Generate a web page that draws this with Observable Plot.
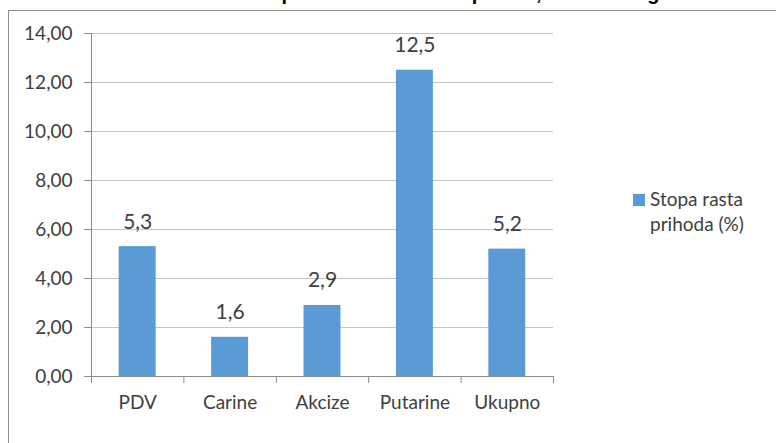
<!DOCTYPE html>
<html>
<head>
<meta charset="utf-8">
<script src="https://cdn.jsdelivr.net/npm/d3@7"></script>
<script src="https://cdn.jsdelivr.net/npm/@observablehq/plot@0.6"></script>
<style>
  html, body { margin: 0; padding: 0; background: #fff; }
  body { width: 776px; height: 443px; position: relative; overflow: hidden; font-family: Lato, "Open Sans", sans-serif; }
  #frame { position: absolute; left: 8px; top: 10px; width: 800px; height: 460px; border: 1px solid #8c8c8c; box-sizing: border-box; }
  #title { position: absolute; left: 0; width: 840px; top: -18px; text-align: center; font-family: "Liberation Sans", Arial, sans-serif; font-weight: bold; font-size: 20px; color: #000; white-space: nowrap; }
  #chart { position: absolute; left: 0; top: 0; }
  #legend { position: absolute; left: 633px; top: 186px; font-size: 19px; color: #404040; line-height: 25px; }
  #legend .sw { display: inline-block; width: 12px; height: 12px; background: #5B9BD5; margin-right: 5px; vertical-align: 0px; }
  #legend .l2 { padding-left: 17px; }
</style>
</head>
<body>
<div id="frame"></div>
<div id="title">Grafikon 21: Stopa rasta indirektnih poreza, 2016/2015 godina</div>
<div id="chart"></div>
<div id="legend"><div><span class="sw"></span>Stopa rasta</div><div class="l2">prihoda (%)</div></div>
<script>
const categories = ["PDV", "Carine", "Akcize", "Putarine", "Ukupno"];
const values = [5.3, 1.6, 2.9, 12.5, 5.2];
const yTicks = [0, 2, 4, 6, 8, 10, 12, 14];
const seriesName = "Stopa rasta prihoda (%)";

const data = categories.map((c, i) => ({ cat: c, i, value: values[i] }));
const comma = (v, d) => v.toFixed(d).replace(".", ",");

const plot = Plot.plot({
  width: 776,
  height: 443,
  marginLeft: 91,
  marginRight: 223,
  marginTop: 33,
  marginBottom: 67,
  style: { fontFamily: "Lato, 'Open Sans', sans-serif", fontSize: "19px", color: "#404040", background: "transparent" },
  x: { domain: [0, categories.length], axis: null, label: null },
  y: { domain: [0, 14], axis: null, label: null },
  marks: [
    Plot.ruleY(yTicks.filter(t => t > 0), { stroke: "#c6c6c6", strokeWidth: 1 }),
    Plot.rectY(data, { x1: d => d.i + 0.3, x2: d => d.i + 0.7, y1: 0, y2: "value", fill: "#5B9BD5" }),
    Plot.ruleX([0], { stroke: "#8c8c8c", strokeWidth: 1 }),
    Plot.ruleY([0], { stroke: "#8c8c8c", strokeWidth: 1 }),
    Plot.axisY({ ticks: yTicks, tickFormat: v => comma(v, 2), tickSize: 7, tickPadding: 12, stroke: "#8c8c8c", fontSize: 19, fill: "#404040", label: null }),
    Plot.axisX({ ticks: d3.range(categories.length + 1), tickFormat: () => "", tickSize: 7, stroke: "#8c8c8c", label: null }),
    Plot.axisX({ ticks: d3.range(categories.length).map(i => i + 0.5), tickFormat: v => categories[Math.floor(v)], tickSize: 0, tickPadding: 19, fontSize: 19, fill: "#404040", label: null }),
    Plot.text(data, { x: d => d.i + 0.5, y: "value", text: d => comma(d.value, 1), lineAnchor: "bottom", dy: -18, fontSize: 21, fill: "#404040" })
  ]
});
document.getElementById("chart").appendChild(plot);
</script>
</body>
</html>
